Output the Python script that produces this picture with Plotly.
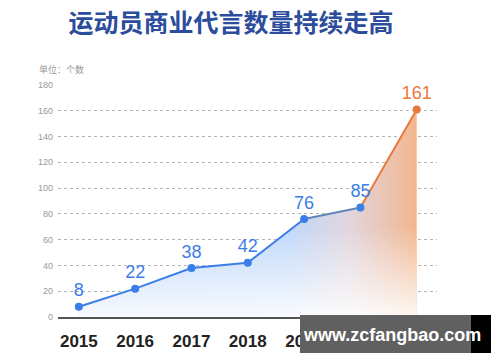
import plotly.graph_objects as go

years = [2015, 2016, 2017, 2018, 2019, 2020, 2021]
values = [8, 22, 38, 42, 76, 85, 161]
tick_vals = [0, 20, 40, 60, 80, 100, 120, 140, 160, 180]
title_text = "运动员商业代言数量持续走高"
unit_text = "单位：个数"
watermark = "www.zcfangbao.com"

BLUE = "#3b7ee9"
ORANGE = "#e9793a"

# page body has an 8px default margin; figure sized to fill the rest of the window
OFF = 8
W, H = 500 - OFF, 362 - OFF
PL, PR, PT, PB = 58, 437, 85, 317  # plot area in window pixels
PW, PH = PR - PL, PB - PT

def px(x):
    return (x - PL) / PW

def py(y):
    return (PB - y) / PH

fig = go.Figure()

# gradient area (horizontal blue -> orange)
fig.add_trace(go.Scatter(
    x=years, y=values, mode="lines", line=dict(width=0),
    fill="tozeroy",
    fillgradient=dict(type="horizontal", start=years[0], stop=years[-1],
                      colorscale=[[0, "rgba(186,212,250,1)"], [0.62, "rgba(192,216,250,1)"],
                                  [0.8, "rgba(225,214,222,1)"], [1, "rgba(242,182,142,1)"]]),
    hoverinfo="skip", showlegend=False))
# white fade towards the bottom
fig.add_trace(go.Scatter(
    x=years, y=values, mode="lines", line=dict(width=0),
    fill="tozeroy",
    fillgradient=dict(type="vertical", start=0, stop=70,
                      colorscale=[[0, "rgba(255,255,255,0.9)"], [1, "rgba(255,255,255,0)"]]),
    hoverinfo="skip", showlegend=False))

# lines
fig.add_trace(go.Scatter(x=years[:5], y=values[:5], mode="lines",
                         line=dict(color=BLUE, width=2), showlegend=False))
fig.add_trace(go.Scatter(x=years[4:6], y=values[4:6], mode="lines",
                         line=dict(color="#5f86b8", width=2), showlegend=False))
fig.add_trace(go.Scatter(x=years[5:], y=values[5:], mode="lines",
                         line=dict(color=ORANGE, width=2), showlegend=False))

# markers + labels
colors = [BLUE] * (len(values) - 1) + [ORANGE]
fig.add_trace(go.Scatter(
    x=years, y=values, mode="markers+text",
    marker=dict(color=colors, size=8),
    text=[str(v) for v in values], textposition="top center",
    textfont=dict(family="Liberation Sans, Arial, sans-serif", size=18, color=colors),
    showlegend=False))

fig.update_layout(
    width=W, height=H,
    margin=dict(l=PL - OFF, r=W - (PR - OFF), t=PT - OFF, b=H - (PB - OFF)),
    paper_bgcolor="white", plot_bgcolor="white",
    xaxis=dict(range=[2014.63, 2021.36], tickvals=years[:5], ticktext=[str(y) for y in years[:5]],
               showgrid=False, zeroline=False, showline=True, linecolor="#555555", linewidth=2,
               ticks="", ticklabelstandoff=8, automargin=False,
               tickfont=dict(family="Liberation Sans, Arial, sans-serif", size=17, color="#222222", weight="bold")),
    yaxis=dict(range=[0, 180], tickvals=tick_vals, showgrid=True, gridcolor="#b5b5b5",
               griddash="dot", gridwidth=1, zeroline=False, showline=False, ticks="",
               ticklabelstandoff=4, automargin=False,
               tickfont=dict(family="Liberation Sans, Arial, sans-serif", size=9, color="#999999")),
    title=dict(text=title_text, x=(231 - OFF) / W, xanchor="center", y=1 - (23 - OFF) / H, yanchor="middle",
               xref="container", yref="container", automargin=False,
               font=dict(family="Noto Sans CJK SC", size=25, color="#2c4c9c", weight="bold")),
    annotations=[
        dict(text=unit_text, xref="paper", yref="paper", x=px(37), y=py(69),
             xanchor="left", yanchor="middle", showarrow=False,
             font=dict(family="Noto Sans CJK SC", size=9, color="#999999")),
        dict(text=watermark, xref="paper", yref="paper", x=px(392), y=py(335),
             xanchor="center", yanchor="middle", showarrow=False,
             font=dict(family="Liberation Sans, Arial, sans-serif", size=18, color="white", weight="bold")),
    ],
    shapes=[
        dict(type="rect", xref="paper", yref="paper", layer="above",
             x0=px(300), x1=px(471), y0=py(353), y1=py(315),
             fillcolor="#606060", line=dict(width=0)),
        dict(type="rect", xref="paper", yref="paper", layer="above",
             x0=px(471), x1=px(491), y0=py(353), y1=py(315),
             fillcolor="#000000", line=dict(width=0)),
    ],
)

fig.write_html("out.html")
